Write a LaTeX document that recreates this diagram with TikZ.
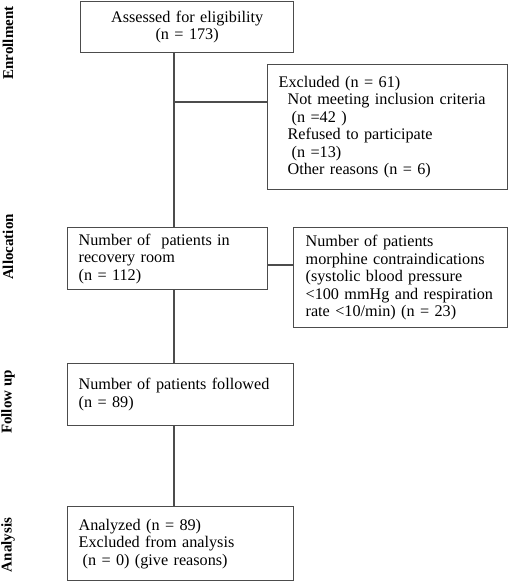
\documentclass[tikz,border=0pt]{standalone}
\usepackage{fontspec}
\setmainfont{Liberation Serif}
\begin{document}
\begin{tikzpicture}[x=1pt,y=-1pt,
        box/.style={draw=black!70,line width=1.3pt,anchor=north west,inner ysep=0pt,
                    inner xsep=11pt,font=\fontsize{16.2}{17.5}\selectfont},
        sidelabel/.style={rotate=90,font=\fontsize{15}{17}\selectfont\bfseries},
        link/.style={draw=black!70,line width=1.3pt}]
        % keep the page as large as the reference
        \useasboundingbox (0,0) rectangle (508,581);

        % the stage names down the left side
        \node[sidelabel] (enrol) at (8,43)  {Enrollment};
        \node[sidelabel] (alloc) at (8,247) {Allocation};
        \node[sidelabel] (follow) at (8,402) {Follow up};
        \node[sidelabel] (anal) at (8,545) {Analysis};

        % the boxes of the chart
        \node[box,minimum width=213pt,minimum height=51pt,text width=191pt,align=center]
              (assess) at (80,1) {Assessed for eligibility\\(n = 173)};
        \node[box,minimum width=240pt,minimum height=125pt,text width=218pt,align=left]
              (excl) at (267,64)
              {Excluded (n = 61)\\
               \hspace*{9pt}Not meeting inclusion criteria\\
               \hspace*{13pt}(n =42 )\\
               \hspace*{9pt}Refused to participate\\
               \hspace*{13pt}(n =13)\\
               \hspace*{9pt}Other reasons (n = 6)};
        \node[box,minimum width=200pt,minimum height=62pt,text width=178pt,align=left]
              (room) at (67,227)
              {Number of\ \ patients in\\recovery room\\(n = 112)};
        \node[box,minimum width=214pt,minimum height=100pt,text width=190pt,inner xsep=12pt,
              align=left] (contra) at (293,227)
              {Number of patients\\morphine contraindications\\(systolic blood pressure\\
               <100 mmHg and respiration\\rate <10/min) (n = 23)};
        \node[box,minimum width=226pt,minimum height=62pt,text width=204pt,align=left]
              (followed) at (67,363)
              {Number of patients followed\\(n = 89)\par\vspace*{13pt}};
        \node[box,minimum width=226pt,minimum height=74pt,text width=204pt,align=left]
              (analysed) at (67,506)
              {Analyzed (n = 89)\\Excluded from analysis\\\hspace*{4pt}(n = 0) (give reasons)};

        % the lines between them
        \coordinate (spine) at (174,0);
        \coordinate (split1) at (174,102);
        \coordinate (split2) at (0,265);
        \draw[link] (assess.south -| spine) -- (room.north -| spine);
        \draw[link] (split1) -- (split1 -| excl.west);
        \draw[link] (split2 -| room.east) -- (split2 -| contra.west);
        \draw[link] (room.south -| spine) -- (followed.north -| spine);
        \draw[link] (followed.south -| spine) -- (analysed.north -| spine);
\end{tikzpicture}
\end{document}
